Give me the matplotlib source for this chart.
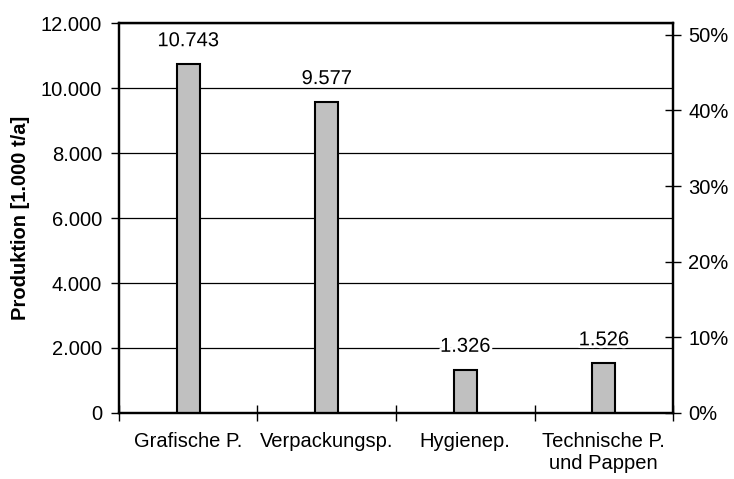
import numpy as np
import matplotlib
matplotlib.use("Agg")
from matplotlib import pyplot as plt
from matplotlib import patheffects
from matplotlib.ticker import FixedLocator, FuncFormatter

categories = ["Grafische P.", "Verpackungsp.", "Hygienep.", "Technische P.\nund Pappen"]
produktion = [10743, 9577, 1326, 1526]
left_ticks = [0, 2000, 4000, 6000, 8000, 10000, 12000]
right_ticks = [0.0, 0.1, 0.2, 0.3, 0.4, 0.5]

plt.rcParams['font.family'] = ['Liberation Sans', 'DejaVu Sans']
plt.rcParams['font.size'] = 14.5


def de_num(v):
    return f"{int(round(v)):,}".replace(",", ".")


def main():
    fig = plt.figure(figsize=(7.34, 4.79), dpi=100)
    ax = fig.add_axes([0.162, 0.138, 0.755, 0.813])
    x = np.arange(len(categories))

    ax.bar(x, produktion, width=0.166, color='#c0c0c0', edgecolor='black',
           linewidth=1.5, zorder=3)

    # labels sit ~17 px (baseline) above the bar tops, white halo cuts the grid
    halo = [patheffects.withStroke(linewidth=4, foreground='white')]
    for xi, v in zip(x, produktion):
        ax.annotate(de_num(v), (xi, v), xytext=(0, 13), textcoords='offset points',
                    ha='center', va='baseline', fontsize=14.5, zorder=4,
                    path_effects=halo)

    ax.set_xlim(-0.5, len(categories) - 0.5)
    ax.set_ylim(0, 12000)
    ax.yaxis.set_major_locator(FixedLocator(left_ticks))
    ax.yaxis.set_major_formatter(FuncFormatter(lambda v, p: de_num(v)))
    ax.yaxis.grid(True, color='black', linewidth=0.9, zorder=0)
    ax.set_axisbelow(True)
    ax.tick_params(axis='y', direction='out', length=6, width=1, pad=6)
    ax.set_ylabel("Produktion [1.000 t/a]", fontweight='bold', labelpad=8)

    # ticks between categories, labels at category centres
    ax.xaxis.set_major_locator(FixedLocator(np.arange(-0.5, len(categories), 1.0)))
    ax.xaxis.set_major_formatter(FuncFormatter(lambda v, p: ""))
    ax.xaxis.set_minor_locator(FixedLocator(x))
    ax.set_xticklabels(categories, minor=True)
    ax.tick_params(axis='x', which='major', direction='inout', length=12, width=1)
    ax.tick_params(axis='x', which='minor', length=0, pad=14)

    for s in ax.spines.values():
        s.set_linewidth(1.6)

    ax2 = ax.twinx()
    ax2.set_ylim(0, 0.515)
    ax2.yaxis.set_major_locator(FixedLocator(right_ticks))
    ax2.yaxis.set_major_formatter(FuncFormatter(lambda v, p: f"{v * 100:.0f}%"))
    ax2.tick_params(axis='y', direction='inout', length=12, width=1, pad=5)
    for s in ax2.spines.values():
        s.set_linewidth(1.6)

    fig.savefig("out.png", dpi=100)


if __name__ == "__main__":
    main()
